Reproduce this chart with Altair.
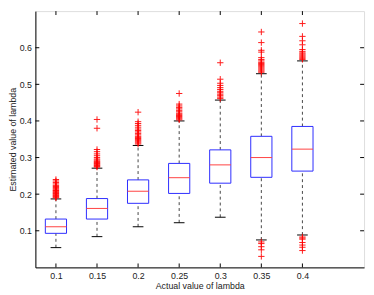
import altair as alt
import pandas as pd

lambdas = [0.1, 0.15, 0.2, 0.25, 0.3, 0.35, 0.4]
lower_whisker = [0.054, 0.084, 0.111, 0.122, 0.137, 0.075, 0.0885]
q1 = [0.093, 0.132, 0.175, 0.202, 0.230, 0.246, 0.263]
median = [0.111, 0.161, 0.208, 0.245, 0.280, 0.300, 0.323]
q3 = [0.132, 0.188, 0.239, 0.284, 0.321, 0.358, 0.385]
upper_whisker = [0.187, 0.271, 0.333, 0.400, 0.457, 0.529, 0.564]

outliers = {
    0.1: [0.190, 0.192, 0.194, 0.196, 0.198, 0.200, 0.202, 0.204, 0.206, 0.208,
          0.210, 0.212, 0.215, 0.218, 0.221, 0.224, 0.228, 0.232, 0.236, 0.240],
    0.15: [0.274, 0.276, 0.278, 0.280, 0.282, 0.284, 0.286, 0.288, 0.290, 0.293,
           0.296, 0.300, 0.305, 0.310, 0.316, 0.322, 0.380, 0.404],
    0.2: [0.337, 0.340, 0.343, 0.346, 0.349, 0.352, 0.355, 0.358, 0.362, 0.366,
          0.370, 0.374, 0.378, 0.383, 0.388, 0.393, 0.398, 0.424],
    0.25: [0.403, 0.406, 0.409, 0.412, 0.415, 0.418, 0.421, 0.425, 0.429, 0.433,
           0.437, 0.441, 0.446, 0.475],
    0.3: [0.461, 0.465, 0.469, 0.473, 0.477, 0.481, 0.486, 0.491, 0.497, 0.503,
          0.514, 0.559],
    0.35: [0.533, 0.536, 0.539, 0.542, 0.545, 0.548, 0.551, 0.554, 0.557, 0.560,
           0.564, 0.568, 0.573, 0.588, 0.593, 0.614, 0.643,
           0.0695, 0.065, 0.0565, 0.048, 0.030],
    0.4: [0.568, 0.571, 0.574, 0.577, 0.580, 0.583, 0.586, 0.590, 0.595, 0.608,
          0.619, 0.631, 0.666,
          0.083, 0.080, 0.077, 0.068, 0.061, 0.055, 0.046],
}

y_ticks = [0.1, 0.2, 0.3, 0.4, 0.5, 0.6]

stats = pd.DataFrame({
    "lam": lambdas, "lo": lower_whisker, "q1": q1, "med": median,
    "q3": q3, "hi": upper_whisker,
})
out_df = pd.DataFrame(
    [{"lam": k, "v": v} for k, vals in outliers.items() for v in vals]
)
ytick_df = pd.DataFrame({"t": y_ticks})
xtick_df = pd.DataFrame({"t": lambdas})

W, H = 336, 262
BOX_HALF = 0.0129
CAP_HALF = 0.0065

xscale = alt.Scale(domain=[0.075, 0.475], nice=False, zero=False)
yscale = alt.Scale(domain=[0, 0.7], nice=False, zero=False)

font = "Liberation Sans"
xaxis = alt.Axis(values=lambdas, format="~g", tickSize=0, labelPadding=4,
                 title="Actual value of lambda", titlePadding=2, grid=False,
                 domainColor="black", labelColor="#222", titleColor="#222",
                 labelFont=font, titleFont=font, labelFontSize=9,
                 titleFontSize=9, titleFontWeight="normal")
yaxis = alt.Axis(values=y_ticks, format=".1f", tickSize=0, labelPadding=4,
                 title="Estimated value of lambda", titlePadding=2, grid=False,
                 domainColor="black", labelColor="#222", titleColor="#222",
                 labelFont=font, titleFont=font, labelFontSize=9,
                 titleFontSize=9, titleFontWeight="normal")

base = alt.Chart(stats)

whisk_up = base.mark_rule(color="#444", strokeDash=[3, 3], strokeWidth=1).encode(
    x=alt.X("lam:Q", scale=xscale, axis=xaxis),
    y=alt.Y("q3:Q", scale=yscale, axis=yaxis),
    y2="hi:Q",
)
whisk_lo = base.mark_rule(color="#444", strokeDash=[3, 3], strokeWidth=1).encode(
    x=alt.X("lam:Q", scale=xscale),
    y=alt.Y("lo:Q", scale=yscale),
    y2="q1:Q",
)
cap_hi = base.transform_calculate(
    xa=f"datum.lam - {CAP_HALF}", xb=f"datum.lam + {CAP_HALF}"
).mark_rule(color="black", strokeWidth=1).encode(
    x=alt.X("xa:Q", scale=xscale), x2="xb:Q", y=alt.Y("hi:Q", scale=yscale)
)
cap_lo = base.transform_calculate(
    xa=f"datum.lam - {CAP_HALF}", xb=f"datum.lam + {CAP_HALF}"
).mark_rule(color="black", strokeWidth=1).encode(
    x=alt.X("xa:Q", scale=xscale), x2="xb:Q", y=alt.Y("lo:Q", scale=yscale)
)
box = base.transform_calculate(
    xa=f"datum.lam - {BOX_HALF}", xb=f"datum.lam + {BOX_HALF}"
).mark_rect(fill="white", stroke="#2a2aff", strokeWidth=1).encode(
    x=alt.X("xa:Q", scale=xscale), x2="xb:Q",
    y=alt.Y("q1:Q", scale=yscale), y2="q3:Q",
)
med = base.transform_calculate(
    xa=f"datum.lam - {BOX_HALF}", xb=f"datum.lam + {BOX_HALF}"
).mark_rule(color="#ff4040", strokeWidth=1).encode(
    x=alt.X("xa:Q", scale=xscale), x2="xb:Q", y=alt.Y("med:Q", scale=yscale)
)
pts = alt.Chart(out_df).mark_point(
    shape="M-1,0H1M0,-1V1", size=42, filled=False, color="red",
    strokeWidth=1, opacity=0.9,
).encode(
    x=alt.X("lam:Q", scale=xscale), y=alt.Y("v:Q", scale=yscale)
)

tk = dict(color="black", strokeWidth=1)
yt_left = alt.Chart(ytick_df).mark_rule(**tk).encode(
    y=alt.Y("t:Q", scale=yscale), x=alt.value(0), x2=alt.value(4))
yt_right = alt.Chart(ytick_df).mark_rule(**tk).encode(
    y=alt.Y("t:Q", scale=yscale), x=alt.value(W - 4), x2=alt.value(W))
xt_bot = alt.Chart(xtick_df).mark_rule(**tk).encode(
    x=alt.X("t:Q", scale=xscale), y=alt.value(H), y2=alt.value(H - 4))
xt_top = alt.Chart(xtick_df).mark_rule(**tk).encode(
    x=alt.X("t:Q", scale=xscale), y=alt.value(0), y2=alt.value(4))

chart = alt.layer(
    whisk_up, whisk_lo, cap_hi, cap_lo, box, med, pts,
    yt_left, yt_right, xt_bot, xt_top,
).properties(
    width=W, height=H,
    autosize=alt.AutoSizeParams(type="none"),
    padding={"left": 28, "top": 0, "right": 2, "bottom": 23},
).configure_view(
    stroke="black", strokeWidth=1
).configure(background="white")

chart.save("out.html", embed_options={"renderer": "svg", "actions": False})
